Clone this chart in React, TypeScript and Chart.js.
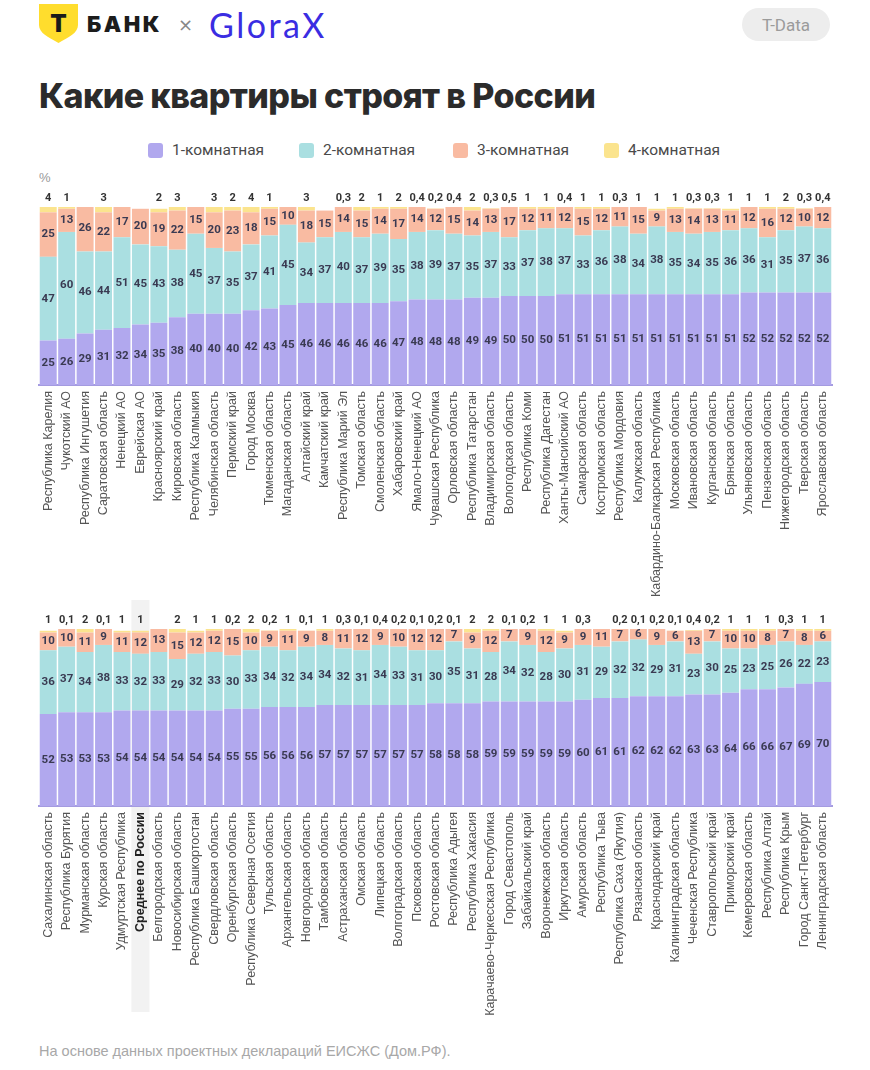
import React, { useEffect, useRef } from "react";
import { Chart, registerables } from "chart.js";

Chart.register(...registerables);

const topLabels = [
  "Республика Карелия", "Чукотский АО", "Республика Ингушетия", "Саратовская область", "Ненецкий АО",
  "Еврейская АО", "Красноярский край", "Кировская область", "Республика Калмыкия", "Челябинская область",
  "Пермский край", "Город Москва", "Тюменская область", "Магаданская область", "Алтайский край",
  "Камчатский край", "Республика Марий Эл", "Томская область", "Смоленская область", "Хабаровский край",
  "Ямало-Ненецкий АО", "Чувашская Республика", "Орловская область", "Республика Татарстан", "Владимирская область",
  "Вологодская область", "Республика Коми", "Республика Дагестан", "Ханты-Мансийский АО", "Самарская область",
  "Костромская область", "Республика Мордовия", "Калужская область", "Кабардино-Балкарская Республика", "Московская область",
  "Ивановская область", "Курганская область", "Брянская область", "Ульяновская область", "Пензенская область",
  "Нижегородская область", "Тверская область", "Ярославская область",
];
const top1 = [25, 26, 29, 31, 32, 34, 35, 38, 40, 40, 40, 42, 43, 45, 46, 46, 46, 46, 46, 47, 48, 48, 48, 49, 49, 50, 50, 50, 51, 51, 51, 51, 51, 51, 51, 51, 51, 51, 52, 52, 52, 52, 52];
const top2 = [47, 60, 46, 44, 51, 45, 43, 38, 45, 37, 35, 37, 41, 45, 34, 37, 40, 37, 39, 35, 38, 39, 37, 35, 37, 33, 37, 38, 37, 33, 36, 38, 34, 38, 35, 34, 35, 36, 36, 31, 35, 37, 36];
const top3 = [25, 13, 26, 22, 17, 20, 19, 22, 15, 20, 23, 18, 15, 10, 18, 15, 14, 15, 14, 17, 14, 12, 15, 14, 13, 17, 12, 11, 12, 15, 12, 11, 15, 9, 13, 14, 13, 11, 12, 16, 12, 10, 12];
const top4 = [4, 1, null, 3, null, null, 2, 3, null, 3, 2, 4, 1, null, 3, null, 0.3, 2, 1, 2, 0.4, 0.2, 0.4, 2, 0.3, 0.5, 1, 1, 0.4, 1, 1, 0.3, 1, 1, 1, 0.3, 0.3, 1, 1, 1, 2, 0.3, 0.4];

const bottomLabels = [
  "Сахалинская область", "Республика Бурятия", "Мурманская область", "Курская область", "Удмуртская Республика",
  "Среднее по России", "Белгородская область", "Новосибирская область", "Республика Башкортостан", "Свердловская область",
  "Оренбургская область", "Республика Северная Осетия", "Тульская область", "Архангельская область", "Новгородская область",
  "Тамбовская область", "Астраханская область", "Омская область", "Липецкая область", "Волгоградская область",
  "Псковская область", "Ростовская область", "Республика Адыгея", "Республика Хакасия", "Карачаево-Черкесская Республика",
  "Город Севастополь", "Забайкальский край", "Воронежская область", "Иркутская область", "Амурская область",
  "Республика Тыва", "Республика Саха (Якутия)", "Рязанская область", "Краснодарский край", "Калининградская область",
  "Чеченская Республика", "Ставропольский край", "Приморский край", "Кемеровская область", "Республика Алтай",
  "Республика Крым", "Город Санкт-Петербург", "Ленинградская область",
];
const bottom1 = [52, 53, 53, 53, 54, 54, 54, 54, 54, 54, 55, 55, 56, 56, 56, 57, 57, 57, 57, 57, 57, 58, 58, 58, 59, 59, 59, 59, 59, 60, 61, 61, 62, 62, 62, 63, 63, 64, 66, 66, 67, 69, 70];
const bottom2 = [36, 37, 34, 38, 33, 32, 33, 29, 32, 33, 30, 33, 34, 32, 34, 34, 32, 31, 34, 33, 31, 30, 35, 31, 28, 34, 32, 28, 30, 31, 29, 32, 32, 29, 31, 23, 30, 25, 23, 25, 26, 22, 23];
const bottom3 = [10, 10, 11, 9, 11, 12, 13, 15, 12, 12, 15, 10, 9, 11, 9, 8, 11, 12, 9, 10, 12, 12, 7, 9, 12, 7, 9, 12, 9, 9, 11, 7, 6, 9, 6, 13, 7, 10, 10, 8, 7, 8, 6];
const bottom4 = [1, 0.1, 2, 0.1, 1, 1, null, 2, 1, 1, 0.2, 2, 0.2, 1, 0.1, 1, 0.3, 0.1, 0.4, 0.2, 0.1, 0.2, 0.1, 2, 2, 0.1, 0.2, 1, 1, 0.3, null, 0.2, 0.1, 0.2, 0.1, 0.4, 0.2, 1, 1, 1, 0.3, 1, 1];

const seriesNames = ["1-комнатная", "2-комнатная", "3-комнатная", "4-комнатная"];
const seriesColors = ["#b1a8ee", "#aadfe1", "#f9bba2", "#fbe48e"];

const LABEL_COLOR = "#3a3a52";

const fmt = (v: number) => String(v).replace(".", ",");

const valueLabels = {
  id: "valueLabels",
  afterDatasetsDraw(chart: any) {
    const ctx = chart.ctx;
    const area = chart.chartArea;
    ctx.save();
    ctx.textAlign = "center";
    ctx.textBaseline = "middle";
    chart.data.datasets.forEach((ds: any, di: number) => {
      const meta = chart.getDatasetMeta(di);
      meta.data.forEach((el: any, i: number) => {
        const v = ds.data[i];
        if (v === null || v === undefined) return;
        if (di === 3) {
          ctx.font = "bold 11px Roboto, 'Liberation Sans', sans-serif";
          ctx.fillStyle = "#333";
          ctx.fillText(fmt(v), el.x, area.top - 9);
        } else {
          ctx.font = "bold 11.5px Roboto, 'Liberation Sans', sans-serif";
          ctx.fillStyle = LABEL_COLOR;
          ctx.fillText(fmt(v), el.x, (el.y + el.base) / 2);
        }
      });
    });
    ctx.restore();
  },
};

const highlightPlugin = {
  id: "highlightCol",
  beforeDraw(chart: any, _args: any, opts: any) {
    if (opts == null || opts.index == null || opts.index < 0) return;
    const meta = chart.getDatasetMeta(0);
    const el = meta.data[opts.index];
    if (!el) return;
    const ctx = chart.ctx;
    const w = 18;
    ctx.save();
    ctx.fillStyle = "#f2f2f2";
    ctx.fillRect(el.x - w / 2, 0, w, chart.chartArea.bottom + opts.below);
    ctx.restore();
  },
};

function StackChart(props: {
  labels: string[];
  d1: number[];
  d2: number[];
  d3: number[];
  d4: (number | null)[];
  highlight: number;
  top: number;
  height: number;
  padTop: number;
  tickH: number;
}) {
  const ref = useRef<HTMLCanvasElement>(null);
  useEffect(() => {
    if (!ref.current) return;
    const datas = [props.d1, props.d2, props.d3, props.d4];
    const chart = new Chart(ref.current, {
      type: "bar",
      data: {
        labels: props.labels,
        datasets: datas.map((d, i) => ({
          label: seriesNames[i],
          data: d as any,
          backgroundColor: seriesColors[i],
          borderWidth: 0,
          barPercentage: 1,
          categoryPercentage: 0.92,
          stack: "s",
        })),
      },
      options: {
        responsive: false,
        animation: false,
        events: [],
        layout: { padding: { left: 39, right: 38, top: props.padTop, bottom: 0 } },
        plugins: {
          legend: { display: false },
          tooltip: { enabled: false },
          highlightCol: { index: props.highlight, below: props.tickH - 8 },
        } as any,
        scales: {
          x: {
            stacked: true,
            grid: { display: false, drawTicks: false },
            border: { display: true, color: "#a49be0", width: 2 },
            afterFit: (scale: any) => {
              scale.height = props.tickH;
            },
            ticks: {
              autoSkip: false,
              minRotation: 90,
              maxRotation: 90,
              padding: 6,
              color: (c: any) => (c.index === props.highlight ? "#222" : "#555"),
              font: (c: any) => ({
                family: "'Liberation Sans', Arial, sans-serif",
                size: 12.5,
                weight: c.index === props.highlight ? "bold" : "normal",
              }),
            },
          },
          y: {
            stacked: true,
            display: false,
            min: 0,
            max: 100,
          },
        },
      },
      plugins: [highlightPlugin, valueLabels],
    });
    return () => chart.destroy();
  }, []);
  return (
    <canvas
      ref={ref}
      width={870}
      height={props.height}
      style={{ position: "absolute", left: 0, top: props.top, width: 870, height: props.height }}
    />
  );
}

function Logo() {
  return (
    <div style={{ position: "absolute", left: 39, top: 4, height: 40, display: "flex", alignItems: "center" }}>
      <svg width="39" height="40" viewBox="0 0 39 40">
        <path d="M0 0 H39 V21 C39 29 30 33 19.5 39 C9 33 0 29 0 21 Z" fill="#ffdd2d" />
        <text x="19.5" y="28" textAnchor="middle" fontFamily="Inter, sans-serif" fontWeight="900" fontSize="24" fill="#1a1a1a">
          Т
        </text>
      </svg>
      <span style={{ marginLeft: 9, fontFamily: "Inter, sans-serif", fontWeight: 900, fontSize: 22, letterSpacing: 2.5, color: "#1c1c1c" }}>
        БАНК
      </span>
      <span style={{ marginLeft: 16, fontFamily: "'DejaVu Sans', sans-serif", fontSize: 18, color: "#888" }}>×</span>
      <span style={{ marginLeft: 16, fontFamily: "Lato, sans-serif", fontWeight: 400, fontSize: 34, color: "#3a2de2", letterSpacing: 2.5 }}>
        GloraX
      </span>
    </div>
  );
}

export default function App() {
  const legendX = [148, 299, 453, 604];
  return (
    <div
      style={{
        position: "absolute",
        left: 0,
        top: 0,
        width: 870,
        height: 1070,
        background: "#fff",
        overflow: "hidden",
        fontFamily: "'Liberation Sans', Arial, sans-serif",
      }}
    >
      <Logo />
      <div
        style={{
          position: "absolute",
          left: 742,
          top: 8,
          width: 88,
          height: 33,
          borderRadius: 17,
          background: "#ededed",
          color: "#9b9b9b",
          fontSize: 17,
          fontFamily: "Roboto, sans-serif",
          display: "flex",
          alignItems: "center",
          justifyContent: "center",
        }}
      >
        T-Data
      </div>
      <div
        style={{
          position: "absolute",
          left: 39,
          top: 74,
          fontFamily: "Inter, sans-serif",
          fontWeight: 800,
          fontSize: 34,
          color: "#2b2b2b",
          letterSpacing: -0.6,
          whiteSpace: "nowrap",
          lineHeight: "44px",
        }}
      >
        Какие квартиры строят в России
      </div>
      {seriesNames.map((n, i) => (
        <div
          key={n}
          style={{ position: "absolute", left: legendX[i], top: 141, height: 18, display: "flex", alignItems: "center" }}
        >
          <span style={{ width: 15, height: 15, borderRadius: 3, background: seriesColors[i], display: "inline-block" }} />
          <span style={{ marginLeft: 9, fontSize: 15.5, color: "#4a4a4a", fontFamily: "Roboto, sans-serif" }}>{n}</span>
        </div>
      ))}
      <div style={{ position: "absolute", left: 39, top: 170, fontSize: 13, color: "#999" }}>%</div>
      <StackChart
        labels={topLabels}
        d1={top1}
        d2={top2}
        d3={top3}
        d4={top4}
        highlight={-1}
        top={180}
        height={420}
        padTop={27}
        tickH={215}
      />
      <StackChart
        labels={bottomLabels}
        d1={bottom1}
        d2={bottom2}
        d3={bottom3}
        d4={bottom4}
        highlight={5}
        top={600}
        height={420}
        padTop={29}
        tickH={214}
      />
      <div style={{ position: "absolute", left: 39, top: 1043, fontSize: 14.5, color: "#a8a8a8" }}>
        На основе данных проектных деклараций ЕИСЖС (Дом.РФ).
      </div>
    </div>
  );
}
